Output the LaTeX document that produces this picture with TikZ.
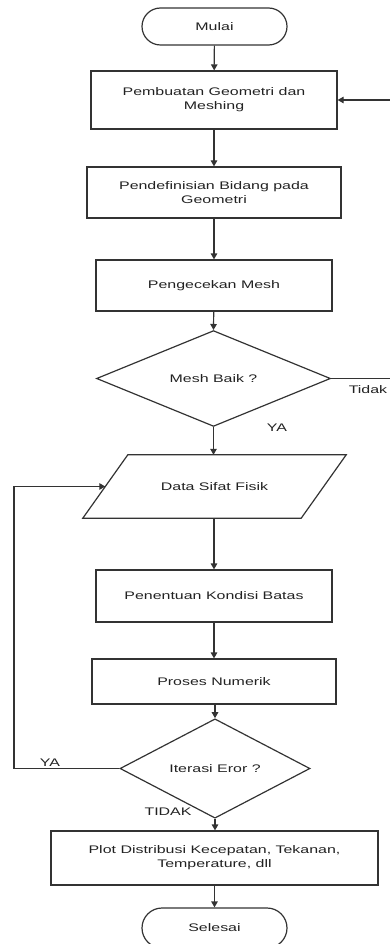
\documentclass[tikz,border=0pt]{standalone}
\usepackage{fontspec}
\setmainfont{Liberation Sans}[FakeStretch=1.45]
\usetikzlibrary{arrows.meta,shapes.geometric,shapes.misc}
\definecolor{ln}{HTML}{333333}
\definecolor{tx}{HTML}{222222}
\tikzset{
  base/.style={draw=ln,line width=1.2pt,inner sep=0pt,align=center,text=tx,font=\fontsize{11}{14}\selectfont},
  procbox/.style={base,rectangle},
  termbox/.style={base,rounded rectangle},
  decbox/.style={base,diamond},
  lbl/.style={text=tx,font=\fontsize{11}{14}\selectfont,inner sep=0pt},
  arr/.style={draw=ln,line width=1.2pt,-{Triangle[length=6pt,width=6.5pt]}},
  ln/.style={draw=ln,line width=1.2pt}
}
\begin{document}
\begin{tikzpicture}[x=1pt,y=-1pt]
\useasboundingbox (0,0) rectangle (390,944);
\node[termbox,minimum width=145pt,minimum height=37pt] (start) at (214.5,26.5) {Mulai};
\node[procbox,minimum width=246pt,minimum height=58pt] (b1) at (214,100) {Pembuatan Geometri dan\\Meshing};
\node[procbox,minimum width=254pt,minimum height=51pt] (b2) at (214,192.5) {Pendefinisian Bidang pada\\Geometri};
\node[procbox,minimum width=236pt,minimum height=51pt] (b3) at (214,285.5) {Pengecekan Mesh};
\node[decbox,minimum width=234pt,minimum height=63pt] (d1) at (213.5,378.5) {Mesh Baik ?};
\node[lbl,minimum width=218pt,minimum height=63pt] (data) at (214.5,486.5) {Data Sifat Fisik};
\draw[ln] ([xshift=-22.5pt]data.south west) -- ([xshift=-22.5pt]data.south east)
  -- ([xshift=22.5pt]data.north east) -- ([xshift=22.5pt]data.north west) -- cycle;
\node[procbox,minimum width=236pt,minimum height=52pt] (b4) at (214,596) {Penentuan Kondisi Batas};
\node[procbox,minimum width=244pt,minimum height=45pt] (b5) at (214,681.5) {Proses Numerik};
\node[decbox,minimum width=190pt,minimum height=63pt] (d2) at (215,768.5) {Iterasi Eror ?};
\node[procbox,minimum width=327pt,minimum height=54pt] (b6) at (214.5,858) {Plot Distribusi Kecepatan, Tekanan,\\Temperature, dll};
\node[termbox,minimum width=145pt,minimum height=40pt] (stop) at (214.5,928) {Selesai};

\node[lbl] (ya1) at (277,428) {YA};
\node[lbl] (tidak1) at (368,390) {Tidak};
\node[lbl] (ya2) at (50,763) {YA};
\node[lbl] (tidak2) at (168,812) {TIDAK};

\coordinate (rx) at (393,0);
\coordinate (lx) at (14,0);

\draw[arr] (start) -- (b1);
\draw[arr] (b1) -- (b2);
\draw[arr] (b2) -- (b3);
\draw[arr] (b3) -- (d1.north);
\draw[arr] (d1.south) -- (d1.south |- data.north);
\draw[arr] (data.south -| b4.north) -- (b4.north);
\draw[arr] (b4) -- (b5);
\draw[arr] (b5.south -| d2.north) -- (d2.north);
\draw[arr] (d2.south) -- (d2.south |- b6.north);
\draw[arr] (b6.south -| stop.north) -- (stop.north);
\draw[arr] (d1.east) -- (d1.east -| rx) |- (b1.east);
\draw[arr] (d2.west) -- (d2.west -| lx) |- (data.west);
\end{tikzpicture}
\end{document}
